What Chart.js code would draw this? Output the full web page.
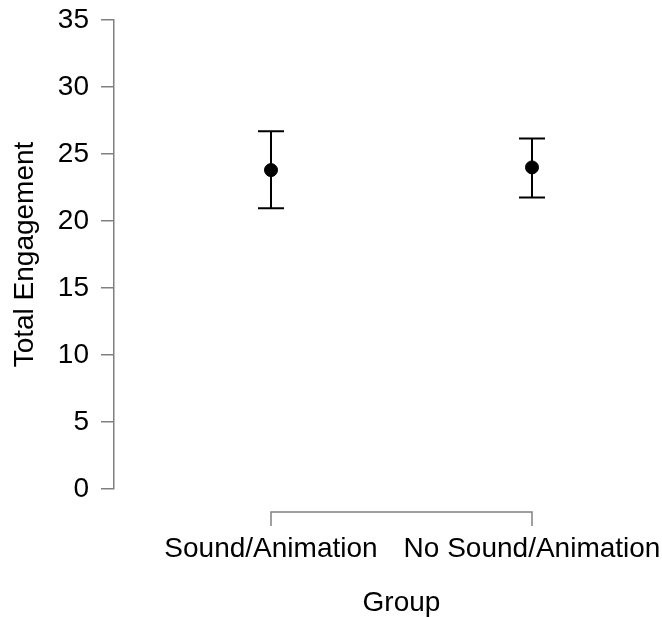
<!DOCTYPE html>
<html>
<head>
<meta charset="utf-8">
<script src="https://cdn.jsdelivr.net/npm/chart.js@4"></script>
<style>
  html, body { margin: 0; padding: 0; background: #fff; }
  #wrap { width: 662px; height: 617px; }
</style>
</head>
<body>
<div id="wrap"><canvas id="chart" width="662" height="617"></canvas></div>
<script>
// ---- data ----
const categories = ["Sound/Animation", "No Sound/Animation"];
const means = [23.8, 24.0];
const lower = [20.95, 21.75];
const upper = [26.7, 26.15];
const yTicks = [0, 5, 10, 15, 20, 25, 30, 35];

const FONT = "'Liberation Sans', Arial, sans-serif";
const AXIS_GREY = "#808080";

// error bars: vertical whisker + caps, drawn with the chart scales
const errorBarPlugin = {
    id: "errorBars",
    beforeDatasetsDraw(chart) {
        const { ctx, scales: { x, y } } = chart;
        ctx.save();
        ctx.strokeStyle = "#000";
        ctx.lineWidth = 2;
        categories.forEach((c, i) => {
            const px = x.getPixelForValue(i);
            const top = y.getPixelForValue(upper[i]);
            const bot = y.getPixelForValue(lower[i]);
            const half = 13;
            ctx.beginPath();
            ctx.moveTo(px, top); ctx.lineTo(px, bot);
            ctx.moveTo(px - half, top); ctx.lineTo(px + half, top);
            ctx.moveTo(px - half, bot); ctx.lineTo(px + half, bot);
            ctx.stroke();
        });
        ctx.restore();
    }
};

// bracket style x axis with category labels and title
const groupAxisPlugin = {
    id: "groupAxis",
    afterDraw(chart) {
        const { ctx, scales: { x } } = chart;
        const x0 = x.getPixelForValue(0);
        const x1 = x.getPixelForValue(categories.length - 1);
        const yLine = 512;
        ctx.save();
        ctx.strokeStyle = AXIS_GREY;
        ctx.lineWidth = 1.5;
        ctx.beginPath();
        ctx.moveTo(x0, yLine + 14); ctx.lineTo(x0, yLine);
        ctx.lineTo(x1, yLine); ctx.lineTo(x1, yLine + 14);
        ctx.stroke();

        ctx.fillStyle = "#000";
        ctx.font = "28px " + FONT;
        ctx.textAlign = "center";
        ctx.textBaseline = "alphabetic";
        categories.forEach((c, i) => {
            ctx.fillText(c, x.getPixelForValue(i), 557);
        });
        ctx.fillText("Group", (x0 + x1) / 2, 611);
        ctx.restore();
    }
};

new Chart(document.getElementById("chart"), {
    type: "scatter",
    data: {
        datasets: [{
            data: means.map((m, i) => ({ x: i, y: m })),
            backgroundColor: "#000",
            borderColor: "#000",
            pointRadius: 6.5,
            pointHoverRadius: 6.5
        }]
    },
    options: {
        responsive: false,
        animation: false,
        layout: { padding: { left: 0, top: 20, right: 62, bottom: 128 } },
        scales: {
            x: {
                type: "linear",
                min: -0.6015,
                max: 1.2605,
                display: false
            },
            y: {
                min: 0,
                max: 35,
                afterBuildTicks: s => { s.ticks = yTicks.map(v => ({ value: v })); },
                afterFit: s => {
                    s.width = 114;
                    s.paddingTop = 0;
                    s.paddingBottom = 0;
                },
                grid: {
                    drawOnChartArea: false,
                    drawTicks: true,
                    tickLength: 13,
                    color: AXIS_GREY,
                    lineWidth: 1.5
                },
                border: { display: true, color: AXIS_GREY, width: 1.5 },
                ticks: {
                    color: "#000",
                    padding: 12,
                    font: { family: FONT, size: 28 }
                },
                title: {
                    display: true,
                    text: "Total Engagement",
                    color: "#000",
                    padding: { top: 8, bottom: 0 },
                    font: { family: FONT, size: 28 }
                }
            }
        },
        plugins: {
            legend: { display: false },
            tooltip: { enabled: false }
        }
    },
    plugins: [errorBarPlugin, groupAxisPlugin]
});
</script>
</body>
</html>
